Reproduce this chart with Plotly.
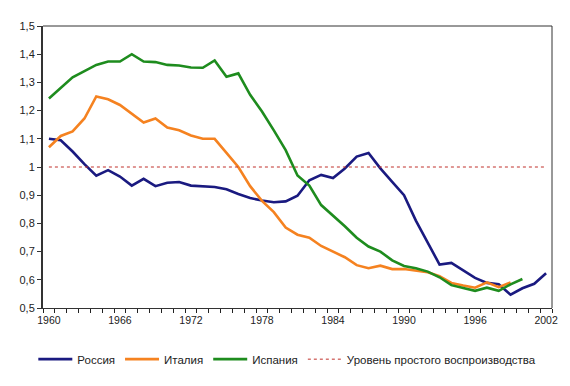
import plotly.graph_objects as go

years = list(range(1960, 2003))

russia = [1.10, 1.095, 1.055, 1.01, 0.969, 0.989, 0.966, 0.934, 0.958, 0.932,
          0.944, 0.947, 0.934, 0.931, 0.929, 0.921, 0.904, 0.89, 0.881, 0.875,
          0.878, 0.898, 0.953, 0.972, 0.961, 0.995, 1.037, 1.05, 0.995, 0.947,
          0.90, 0.81, 0.73, 0.654, 0.66, 0.635, 0.607, 0.589, 0.584, 0.547,
          0.57, 0.586, 0.623]

italy = [1.07, 1.11, 1.126, 1.172, 1.25, 1.24, 1.22, 1.19, 1.158, 1.172,
         1.14, 1.13, 1.112, 1.10, 1.10, 1.05, 1.0, 0.932, 0.88, 0.84,
         0.785, 0.76, 0.749, 0.72, 0.70, 0.68, 0.652, 0.641, 0.65, 0.638,
         0.638, 0.632, 0.627, 0.613, 0.589, 0.58, 0.572, 0.591, 0.574, 0.591]

spain = [1.243, 1.28, 1.318, 1.34, 1.362, 1.374, 1.374, 1.40, 1.374, 1.372,
         1.362, 1.36, 1.353, 1.352, 1.378, 1.32, 1.332, 1.256, 1.197, 1.13,
         1.06, 0.97, 0.934, 0.865, 0.828, 0.79, 0.749, 0.718, 0.70, 0.669,
         0.649, 0.641, 0.629, 0.609, 0.581, 0.57, 0.561, 0.572, 0.561, 0.584,
         0.603]

replacement = [1.0] * len(years)

names = ["Россия", "Италия", "Испания", "Уровень простого воспроизводства"]

x_tickvals = [1960, 1966, 1972, 1978, 1984, 1990, 1996, 2002]
x_tickmarks = [y - 0.5 for y in years] + [years[-1] + 0.5]
y_tickvals = [0.5, 0.6, 0.7, 0.8, 0.9, 1.0, 1.1, 1.2, 1.3, 1.4, 1.5]
y_ticktext = ["0,5", "0,6", "0,7", "0,8", "0,9", "1", "1,1", "1,2", "1,3", "1,4", "1,5"]

fig = go.Figure()
fig.add_trace(go.Scatter(x=years[:len(russia)], y=russia, mode="lines", name=names[0],
                         line=dict(color="#1a1a80", width=2.6)))
fig.add_trace(go.Scatter(x=years[:len(italy)], y=italy, mode="lines", name=names[1],
                         line=dict(color="#f58220", width=2.6)))
fig.add_trace(go.Scatter(x=years[:len(spain)], y=spain, mode="lines", name=names[2],
                         line=dict(color="#1e8c1e", width=2.6)))
fig.add_trace(go.Scatter(x=years, y=replacement, mode="lines", name=names[3],
                         line=dict(color="#c0302a", width=1, dash="3px,3px")))

font = "Liberation Sans, Arial, sans-serif"
xr = [1959.5, 2002.5]

# the page body has an 8px margin, so the figure is sized to fill the rest
fig.update_layout(
    width=562, height=378,
    margin=dict(l=35, r=15, t=18, b=68),
    paper_bgcolor="white", plot_bgcolor="white",
    font=dict(family=font, size=11, color="#222222"),
    showlegend=True,
    legend=dict(orientation="h", x=0.48, xanchor="center", y=-0.13, yanchor="top",
                font=dict(size=11.5, color="#222222"), itemwidth=34,
                tracegroupgap=0, bgcolor="rgba(0,0,0,0)"),
    xaxis=dict(range=xr, tickvals=x_tickmarks, ticks="outside", ticklen=4,
               tickwidth=1, tickcolor="#222222", showticklabels=False, showgrid=False,
               zeroline=False, showline=True, linecolor="#333333", linewidth=1),
    xaxis2=dict(range=xr, overlaying="x", side="bottom", tickvals=x_tickvals,
                ticks="", showgrid=False, zeroline=False, showline=False,
                tickfont=dict(size=10.5, color="#222222"), ticklabelstandoff=4),
    yaxis=dict(range=[0.5, 1.5], tickvals=y_tickvals, ticktext=y_ticktext,
               ticks="outside", ticklen=4, tickcolor="#333333", showgrid=False,
               zeroline=False, showline=True, linecolor="#333333", linewidth=2,
               tickfont=dict(size=11, color="#222222")),
    shapes=[
        dict(type="line", xref="paper", yref="paper", x0=0, x1=1, y0=1, y1=1,
             line=dict(color="#333333", width=1)),
        dict(type="line", xref="paper", yref="paper", x0=1, x1=1, y0=0, y1=1,
             line=dict(color="#333333", width=1)),
    ],
)
# invisible trace to activate the label axis
fig.add_trace(go.Scatter(x=[xr[0]], y=[None], xaxis="x2", showlegend=False,
                         hoverinfo="skip", mode="lines"))

fig.write_html("out.html")
